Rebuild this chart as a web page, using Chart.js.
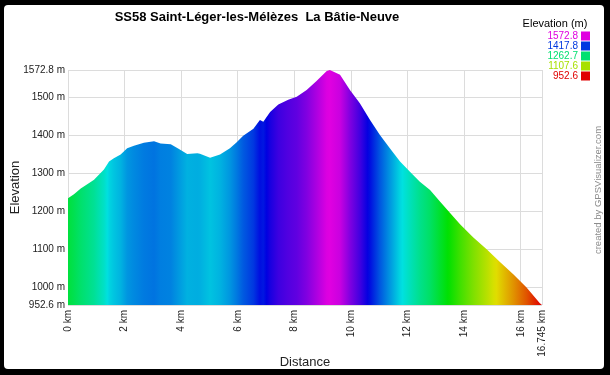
<!DOCTYPE html>
<html>
<head>
<meta charset="utf-8">
<script src="https://cdn.jsdelivr.net/npm/chart.js@4"></script>
<style>
  html, body { margin: 0; padding: 0; background: #000; }
  #wrap { width: 610px; height: 375px; }
</style>
</head>
<body>
<div id="wrap"><canvas id="profile" width="610" height="375"></canvas></div>
<script>
// distance along the track (km) and elevation (m)
var distKm = [0, 0.21, 0.45, 0.68, 0.92, 1.03, 1.27, 1.45, 1.62, 1.86, 2.09, 2.33, 2.68, 3.04,
    3.27, 3.63, 3.92, 4.21, 4.57, 4.66, 5.02, 5.37, 5.72, 5.96, 6.19, 6.55, 6.78, 6.90, 7.14,
    7.43, 7.78, 8.08, 8.43, 8.78, 9.14, 9.25, 9.61, 9.96, 10.31, 10.67, 11.02, 11.37, 11.73,
    12.08, 12.43, 12.79, 13.14, 13.49, 13.85, 14.32, 14.79, 15.26, 15.73, 16.20, 16.67, 16.745];
var elevM = [1234, 1245, 1260, 1271, 1283, 1292, 1310, 1331, 1340, 1350, 1366, 1373, 1381, 1385,
    1379, 1377, 1364, 1351, 1353, 1352, 1341, 1350, 1366, 1382, 1399, 1418, 1441, 1436, 1462,
    1482, 1494, 1502, 1520, 1544, 1570, 1572.8, 1560, 1520, 1485, 1441, 1401, 1366, 1331,
    1304, 1278, 1256, 1226, 1196, 1166, 1131, 1100, 1066, 1034, 999, 957, 952.6];

var yTicks = [952.6, 1000, 1100, 1200, 1300, 1400, 1500, 1572.8];
var xTicks = [0, 2, 4, 6, 8, 10, 12, 14, 16, 16.745];
var legendValues = [1572.8, 1417.8, 1262.7, 1107.6, 952.6];

var minElev = 952.6, maxElev = 1572.8;

function elevColor(e) {
    var t = (e - minElev) / (maxElev - minElev);
    t = Math.max(0, Math.min(1, t));
    return 'hsl(' + (300 * t) + ',100%,44%)';
}

var points = [];
for (var i = 0; i < distKm.length; i++) {
    points.push({ x: distKm[i], y: elevM[i] });
}

// colour each vertical strip by its elevation
function fillGradient(context) {
    var chart = context.chart;
    var area = chart.chartArea;
    if (!area) return null;
    var xs = chart.scales.x;
    var g = chart.ctx.createLinearGradient(area.left, 0, area.right, 0);
    var w = area.right - area.left;
    for (var i = 0; i < distKm.length; i++) {
        var last = i == distKm.length - 1;
        var steps = last ? 1 : 4;
        for (var s = 0; s < steps; s++) {
            var f = s / steps;
            var d = last ? distKm[i] : distKm[i] + (distKm[i + 1] - distKm[i]) * f;
            var e = last ? elevM[i] : elevM[i] + (elevM[i + 1] - elevM[i]) * f;
            var pos = (xs.getPixelForValue(d) - area.left) / w;
            g.addColorStop(Math.max(0, Math.min(1, pos)), elevColor(e));
        }
    }
    return g;
}

var frame = {
    id: 'frame',
    beforeDraw: function (chart) {
        var c = chart.ctx;
        c.save();
        c.fillStyle = '#000';
        c.fillRect(0, 0, chart.width, chart.height);
        c.fillStyle = '#fff';
        c.beginPath();
        c.roundRect(4, 5, 600, 364, 4);
        c.fill();
        c.restore();
    },
    afterDraw: function (chart) {
        var c = chart.ctx;
        c.save();
        c.textBaseline = 'middle';
        // title
        c.fillStyle = '#000';
        c.font = 'bold 13px "Liberation Sans", Arial, sans-serif';
        c.textAlign = 'center';
        c.fillText('SS58 Saint-Léger-les-Mélèzes  La Bâtie-Neuve', 257, 17);
        // legend
        c.font = '11px "Liberation Sans", Arial, sans-serif';
        c.fillText('Elevation (m)', 555, 24);
        c.font = '10px "Liberation Sans", Arial, sans-serif';
        c.textAlign = 'right';
        legendValues.forEach(function (v, k) {
            var y = 36 + k * 10;
            c.fillStyle = elevColor(v);
            c.fillText(v.toFixed(1), 578, y);
            c.fillRect(581, y - 4.5, 9, 9);
        });
        // credit
        c.translate(598, 190);
        c.rotate(-Math.PI / 2);
        c.textAlign = 'center';
        c.fillStyle = '#8c8c8c';
        c.font = '9.5px "Liberation Sans", Arial, sans-serif';
        c.fillText('created by GPSVisualizer.com', 0, 0);
        c.restore();
    }
};

var ctx = document.getElementById('profile').getContext('2d');
var chart = new Chart(ctx, {
    type: 'line',
    data: {
        datasets: [{
            data: points,
            fill: 'start',
            backgroundColor: fillGradient,
            borderColor: 'rgba(0,0,0,0)',
            borderWidth: 0,
            pointRadius: 0,
            tension: 0
        }]
    },
    options: {
        responsive: false,
        animation: false,
        events: [],
        layout: { padding: { left: 5, top: 70, right: 68, bottom: 5 } },
        plugins: { legend: { display: false }, tooltip: { enabled: false } },
        scales: {
            x: {
                type: 'linear',
                min: 0,
                max: 16.745,
                afterBuildTicks: function (s) { s.ticks = xTicks.map(function (v) { return { value: v }; }); },
                afterFit: function (s) { s.height = 65; },
                grid: { color: '#dcdcdc', drawTicks: false },
                border: { display: false },
                ticks: {
                    autoSkip: false,
                    minRotation: 90,
                    maxRotation: 90,
                    padding: 5,
                    color: '#222',
                    font: { family: '"Liberation Sans", Arial, sans-serif', size: 10 },
                    callback: function (v) { return v + ' km'; }
                },
                title: {
                    display: true,
                    text: 'Distance',
                    color: '#222',
                    padding: { top: 0, bottom: 0 },
                    font: { family: '"Liberation Sans", Arial, sans-serif', size: 13 }
                }
            },
            y: {
                min: minElev,
                max: maxElev,
                afterBuildTicks: function (s) { s.ticks = yTicks.map(function (v) { return { value: v }; }); },
                afterFit: function (s) { s.width = 63; },
                grid: { color: '#dcdcdc', drawTicks: false },
                border: { display: false },
                ticks: {
                    padding: 3,
                    color: '#222',
                    font: { family: '"Liberation Sans", Arial, sans-serif', size: 10 },
                    callback: function (v) { return v + ' m'; }
                },
                title: {
                    display: true,
                    text: 'Elevation',
                    color: '#222',
                    padding: { top: 3, bottom: 0 },
                    font: { family: '"Liberation Sans", Arial, sans-serif', size: 13 }
                }
            }
        }
    },
    plugins: [frame]
});
</script>
</body>
</html>
